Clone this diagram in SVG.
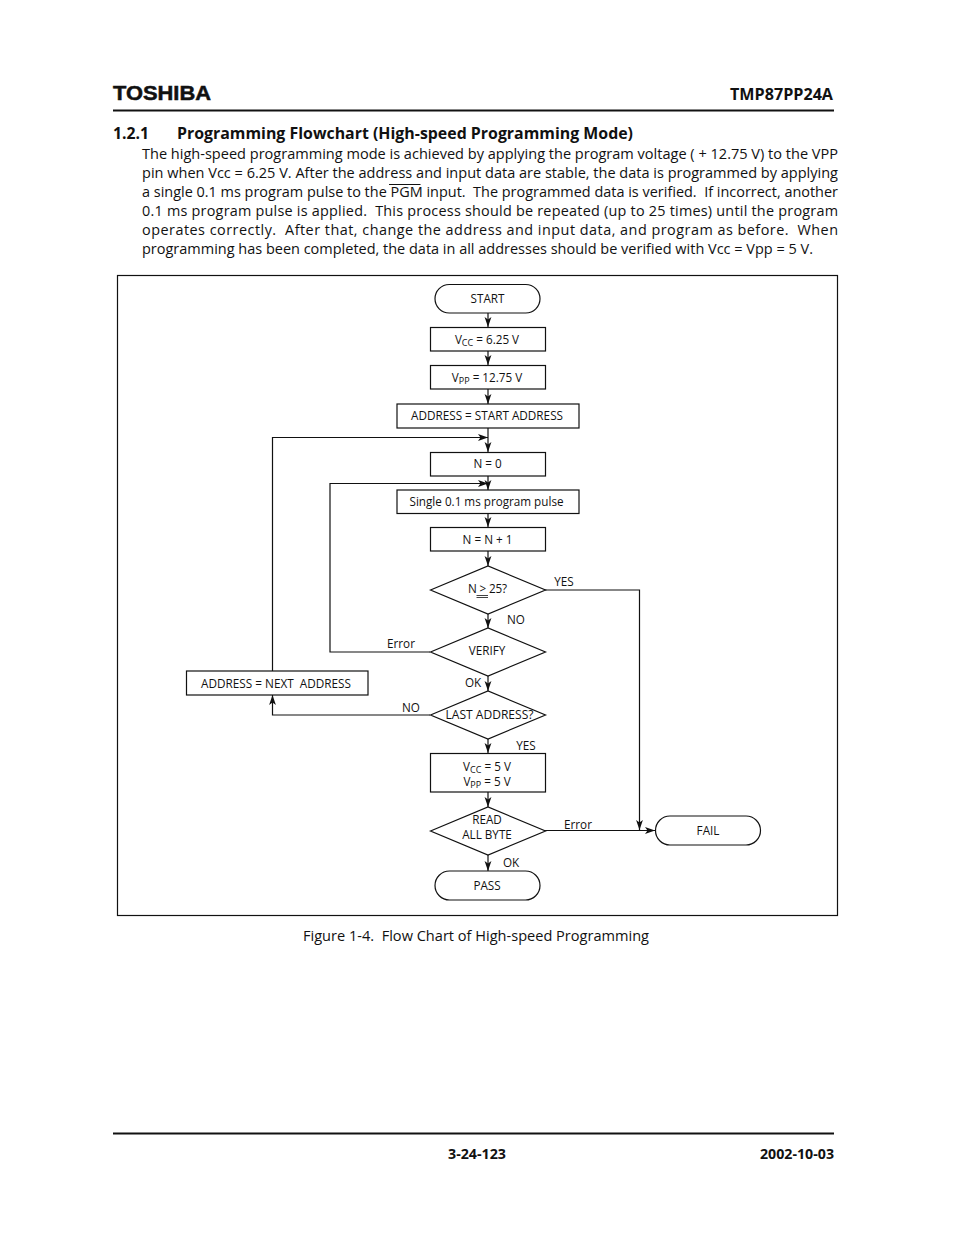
<svg xmlns="http://www.w3.org/2000/svg" width="954" height="1235" viewBox="0 0 954 1235">
<style>
text{font-family:"Open Sans","Noto Sans","Liberation Sans",sans-serif;fill:#111}
.p{font-size:14.4px}
.h{font-size:15.5px;font-weight:700}
.l{font-size:11.7px;text-anchor:middle}
.s{font-size:9px}
.n{fill:#fff;stroke:#111;stroke-width:1.2}
.c{fill:none;stroke:#111;stroke-width:1.2}
.a{marker-end:url(#ah)}
.r{stroke:#111;fill:none}
</style>
<defs>
<marker id="ah" markerUnits="userSpaceOnUse" markerWidth="11" markerHeight="8" refX="10" refY="4" orient="auto">
<path d="M0 .6L10 4L0 7.400L2.500 4Z" fill="#111"/>
</marker>
</defs>
<rect width="954" height="1235" fill="#fff"/>

<g id="page-header">
<text x="113" y="100" textLength="98" lengthAdjust="spacingAndGlyphs" style="font-family:'Liberation Sans',sans-serif;font-size:20px;font-weight:700;stroke:#111;stroke-width:.5">TOSHIBA</text>
<text x="730" y="100" textLength="103" lengthAdjust="spacingAndGlyphs" style="font-size:15.5px;font-weight:700">TMP87PP24A</text>
<path class="r" d="M113 110.500H834" stroke-width="2"/>
<text class="h" x="113" y="139" textLength="36" lengthAdjust="spacingAndGlyphs">1.2.1</text>
<text class="h" x="177" y="139" textLength="456" lengthAdjust="spacingAndGlyphs">Programming Flowchart (High-speed Programming Mode)</text>
</g>

<g id="body-text">
<text class="p" x="142" y="159" textLength="696" lengthAdjust="spacingAndGlyphs">The high-speed programming mode is achieved by applying the program voltage ( + 12.75 V) to the VPP</text>
<text class="p" x="142" y="178" textLength="696" lengthAdjust="spacingAndGlyphs">pin when Vcc = 6.25 V.  After the address and input data are stable, the data is programmed by applying</text>
<text class="p" x="142" y="197" textLength="696" lengthAdjust="spacingAndGlyphs" xml:space="preserve">a single 0.1 ms program pulse to the PGM input.  The programmed data is verified.  If incorrect, another</text>
<path class="r" d="M389 184.500H420.500" stroke-width="1"/>
<text class="p" x="142" y="216" textLength="696" lengthAdjust="spacing" xml:space="preserve">0.1 ms program pulse is applied.  This process should be repeated (up to 25 times) until the program</text>
<text class="p" x="142" y="235" textLength="696" lengthAdjust="spacing" xml:space="preserve">operates correctly.  After that, change the address and input data, and program as before.  When</text>
<text class="p" x="142" y="254" textLength="671" lengthAdjust="spacingAndGlyphs">programming has been completed, the data in all addresses should be verified with Vcc = Vpp = 5 V.</text>
</g>

<rect id="frame" x="117.500" y="275.500" width="720" height="640" fill="none" stroke="#111" stroke-width="1.200"/>

<g id="connectors">
<path class="c a" d="M488 313V327"/>
<path class="c a" d="M488 351V365"/>
<path class="c a" d="M488 389V404"/>
<path class="c a" d="M488 428V452"/>
<path class="c a" d="M488 476V490"/>
<path class="c a" d="M488 513V527"/>
<path class="c a" d="M488 551V566"/>
<path class="c a" d="M488 614V628"/>
<path class="c a" d="M488 676V691"/>
<path class="c a" d="M488 739V753"/>
<path class="c a" d="M488 792V807"/>
<path class="c a" d="M488 855V871"/>
<path class="c a" d="M272.500 671V437.500H488"/>
<path class="c a" d="M430 652H330V483.500H488"/>
<path class="c a" d="M430 715H272.500V695"/>
<path class="c a" d="M545 590H639.500V830"/>
<path class="c a" d="M545 830.500H655"/>
</g>

<g id="start"><rect class="n" x="435" y="284.500" width="105" height="28.500" rx="14.250"/><text class="l" x="487.500" y="302.800">START</text></g>
<g id="vcc625"><rect class="n" x="430.500" y="327.500" width="115" height="23.500"/><text class="l" x="487" y="343.500">V<tspan class="s" dy="2">CC</tspan><tspan dy="-2"> = 6.25 V</tspan></text></g>
<g id="vpp1275"><rect class="n" x="430.500" y="365.500" width="115" height="23.500"/><text class="l" x="487" y="381.500">V<tspan class="s" dy="2">PP</tspan><tspan dy="-2"> = 12.75 V</tspan></text></g>
<g id="addr-start"><rect class="n" x="397" y="404" width="182" height="24"/><text class="l" x="487" y="420" textLength="152" lengthAdjust="spacingAndGlyphs">ADDRESS = START ADDRESS</text></g>
<g id="n0"><rect class="n" x="430.500" y="452.500" width="115" height="23.500"/><text class="l" x="487.500" y="468">N = 0</text></g>
<g id="pulse"><rect class="n" x="397" y="490" width="182" height="23.500"/><text class="l" x="486.500" y="505.500" textLength="154" lengthAdjust="spacingAndGlyphs">Single 0.1 ms program pulse</text></g>
<g id="ninc"><rect class="n" x="430.500" y="527.500" width="115" height="23.500"/><text class="l" x="487.500" y="543.500">N = N + 1</text></g>
<g id="check25"><path class="n" d="M430.500 590L488 566L545.500 590L488 614Z"/><text class="l" x="487.500" y="593" textLength="39" lengthAdjust="spacing">N &gt; 25?</text><path class="r" d="M476.500 595.500H488M476.500 597.500H488" stroke-width=".8"/></g>
<g id="verify"><path class="n" d="M430.500 652L488 628L545.500 652L488 676Z"/><text class="l" x="487" y="655">VERIFY</text></g>
<g id="last"><path class="n" d="M430.500 715L488 691L545.500 715L488 739Z"/><text class="l" x="489.500" y="719" textLength="88" lengthAdjust="spacingAndGlyphs">LAST ADDRESS?</text></g>
<g id="addr-next"><rect class="n" x="186.500" y="671" width="181.500" height="24"/><text class="l" x="276" y="687.500" xml:space="preserve" textLength="150" lengthAdjust="spacingAndGlyphs">ADDRESS = NEXT  ADDRESS</text></g>
<g id="vcc5"><rect class="n" x="430.500" y="753.500" width="115" height="38.500"/><text class="l" x="487" y="770.500">V<tspan class="s" dy="2">CC</tspan><tspan dy="-2"> = 5 V</tspan></text><text class="l" x="487" y="786">V<tspan class="s" dy="2">PP</tspan><tspan dy="-2"> = 5 V</tspan></text></g>
<g id="read"><path class="n" d="M430.500 831L488 807L545.500 831L488 855Z"/><text class="l" x="487" y="824">READ</text><text class="l" x="487" y="839">ALL BYTE</text></g>
<g id="pass"><rect class="n" x="435" y="871" width="105" height="29" rx="14.500"/><text class="l" x="487" y="890">PASS</text></g>
<g id="fail"><rect class="n" x="655.500" y="816" width="105" height="29" rx="14.500"/><text class="l" x="708" y="835">FAIL</text></g>

<g id="labels">
<text class="l" x="564" y="586">YES</text>
<text class="l" x="516" y="624">NO</text>
<text class="l" x="401" y="648">Error</text>
<text class="l" x="473" y="686.500">OK</text>
<text class="l" x="411" y="712">NO</text>
<text class="l" x="526" y="750">YES</text>
<text class="l" x="578" y="829">Error</text>
<text class="l" x="511" y="867">OK</text>
</g>

<text id="caption" x="303" y="941" textLength="346" lengthAdjust="spacingAndGlyphs" xml:space="preserve" style="font-size:14.400px">Figure 1-4.  Flow Chart of High-speed Programming</text>

<g id="page-footer">
<path class="r" d="M113 1133.500H834" stroke-width="2"/>
<text x="448" y="1159" textLength="58" lengthAdjust="spacingAndGlyphs" style="font-size:15px;font-weight:700">3-24-123</text>
<text x="760" y="1159" textLength="74" lengthAdjust="spacingAndGlyphs" style="font-size:15px;font-weight:700">2002-10-03</text>
</g>
</svg>
